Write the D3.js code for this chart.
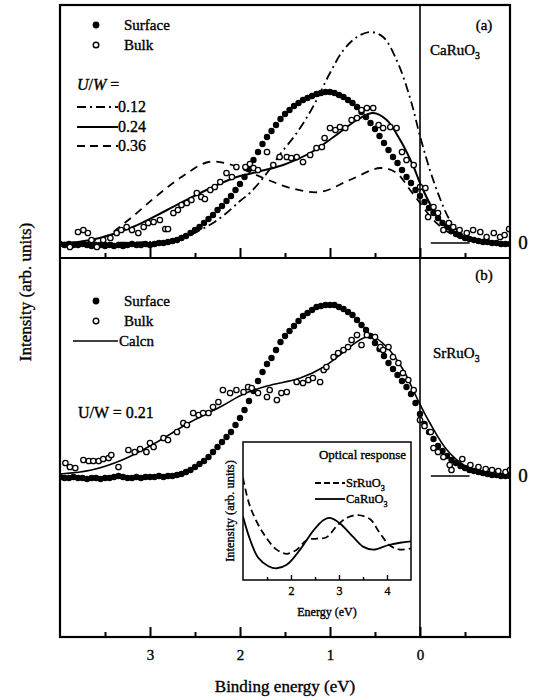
<!DOCTYPE html>
<html><head><meta charset="utf-8">
<script src="https://cdn.jsdelivr.net/npm/d3@7"></script>
<style>body{margin:0;background:#fff}svg{display:block}svg text{stroke:#000;stroke-width:0.35px}</style>
</head><body>
<svg id="chart" width="537" height="700"></svg>
<script>
// ---------------- DATA ----------------
const majorTicks = [3, 2, 1, 0];
const minorTicks = [3.5, 2.5, 1.5, 0.5, -0.5];
const insetMajorTicks = [2, 3, 4];
const insetMinorTicks = [1.5, 2.5, 3.5];

const surfaceEnergy = [4.00,3.95,3.90,3.85,3.80,3.75,3.70,3.65,3.60,3.55,
 3.50,3.45,3.40,3.35,3.30,3.25,3.20,3.15,3.10,3.05,
 3.00,2.95,2.90,2.85,2.80,2.75,2.70,2.65,2.60,2.55,
 2.50,2.45,2.40,2.35,2.30,2.25,2.20,2.15,2.10,2.05,
 2.00,1.95,1.90,1.85,1.80,1.75,1.70,1.65,1.60,1.55,
 1.50,1.45,1.40,1.35,1.30,1.25,1.20,1.15,1.10,1.05,
 1.00,0.95,0.90,0.85,0.80,0.75,0.70,0.65,0.60,0.55,
 0.50,0.45,0.40,0.35,0.30,0.25,0.20,0.15,0.10,0.05,
 0.00,-0.05,-0.10,-0.15,-0.20,-0.25,-0.30,-0.35,-0.40,-0.45,
 -0.50,-0.55,-0.60,-0.65,-0.70,-0.75,-0.80,-0.85,-0.90,-0.95,-1.00];

// Panel (a) CaRuO3 surface (filled)
const surfaceA = [-0.01,-0.02,-0.01,-0.02,-0.02,-0.01,-0.02,-0.03,-0.02,-0.02,
 -0.03,-0.02,-0.03,-0.02,-0.03,-0.02,-0.01,-0.02,-0.02,-0.01,
 -0.02,-0.01,0.00,0.00,0.01,0.02,0.03,0.05,0.07,0.10,
 0.13,0.16,0.20,0.24,0.28,0.33,0.37,0.42,0.47,0.53,
 0.59,0.66,0.74,0.83,0.91,0.99,1.06,1.12,1.18,1.24,
 1.29,1.33,1.37,1.40,1.43,1.45,1.47,1.49,1.50,1.51,
 1.51,1.50,1.48,1.46,1.43,1.40,1.36,1.31,1.26,1.20,
 1.14,1.07,1.00,0.93,0.86,0.80,0.73,0.66,0.60,0.53,
 0.47,0.41,0.35,0.30,0.25,0.20,0.16,0.12,0.09,0.07,
 0.05,0.04,0.03,0.02,0.01,0.01,0.00,0.00,-0.01,-0.01,-0.01];

// Panel (b) SrRuO3 surface (filled)
const surfaceB = [-0.01,-0.02,-0.02,-0.01,-0.02,-0.02,-0.03,-0.02,-0.02,-0.03,
 -0.02,-0.02,-0.01,0.00,-0.01,-0.02,-0.02,-0.01,-0.02,-0.01,
 -0.01,-0.01,0.00,-0.01,0.00,0.00,0.01,0.02,0.04,0.06,
 0.09,0.12,0.15,0.19,0.24,0.29,0.34,0.39,0.44,0.51,
 0.58,0.66,0.75,0.85,0.95,1.04,1.12,1.18,1.26,1.34,
 1.40,1.45,1.50,1.55,1.60,1.63,1.66,1.69,1.70,1.71,
 1.71,1.71,1.69,1.67,1.64,1.61,1.56,1.51,1.46,1.40,
 1.33,1.27,1.20,1.13,1.07,1.01,0.95,0.89,0.82,0.73,
 0.62,0.52,0.44,0.37,0.30,0.25,0.20,0.16,0.13,0.10,
 0.08,0.06,0.05,0.04,0.03,0.02,0.01,0.01,0.00,0.00,0.00];

// Panel (a) bulk (open)
const bulkAEnergy = [3.89,3.80,3.74,3.69,3.65,3.59,3.52,3.44,3.37,3.32,3.26,3.20,3.13,3.07,3.02,2.96,2.89,2.83,2.80,2.74,
 2.69,2.65,2.59,2.54,2.48,2.43,2.39,2.33,2.28,2.22,2.15,2.09,2.04,1.94,1.89,1.85,1.80,1.70,1.63,1.56,
 1.48,1.43,1.37,1.30,1.22,1.15,1.09,1.06,1.00,0.94,0.89,0.83,0.76,0.70,0.65,0.59,0.52,0.46,0.41,0.33,
 0.26,0.20,0.15,0.07,0.00,-0.06,-0.09,-0.15,-0.20,-0.26,-0.32,-0.37,-0.44,-0.52,-0.59,-0.67,-0.74,-0.82,-0.89,-0.94,-0.99];
const bulkAValue = [-0.04,0.11,0.13,0.10,0.03,-0.04,0.03,0.05,0.10,0.13,0.16,0.13,0.10,0.16,0.20,0.21,0.23,0.14,0.14,0.30,
 0.33,0.38,0.40,0.43,0.50,0.46,0.44,0.53,0.56,0.61,0.70,0.66,0.76,0.76,0.79,0.75,0.73,0.91,0.78,0.86,
 0.86,0.85,0.86,0.81,0.88,0.95,0.96,1.05,1.15,1.13,1.16,1.15,1.23,1.25,1.33,1.35,1.35,1.18,1.15,1.16,
 1.15,0.91,0.83,0.78,0.56,0.55,0.26,0.36,0.30,0.13,0.20,0.16,0.13,0.10,0.13,0.11,0.06,0.10,0.06,0.08,0.14];

// Panel (b) bulk (open)
const bulkBEnergy = [3.94,3.89,3.83,3.74,3.68,3.63,3.57,3.52,3.46,3.43,3.35,3.24,3.17,3.11,3.04,3.00,2.96,2.85,2.80,2.70,
 2.63,2.59,2.52,2.46,2.41,2.35,2.30,2.24,2.19,2.11,2.04,1.96,1.91,1.87,1.80,1.70,1.67,1.59,1.54,1.48,
 1.37,1.30,1.24,1.19,1.11,1.07,1.04,0.96,0.91,0.85,0.80,0.76,0.70,0.65,0.59,0.50,0.44,0.41,0.35,0.30,
 0.24,0.19,0.13,0.07,0.00,-0.05,-0.12,-0.15,-0.20,-0.26,-0.33,-0.35,-0.47,-0.56,-0.65,-0.73,-0.80,-0.87,-0.95,-1.00];
const bulkBValue = [0.13,0.09,0.08,0.16,0.15,0.15,0.15,0.17,0.18,0.21,0.09,0.26,0.24,0.27,0.24,0.33,0.29,0.38,0.36,0.44,
 0.53,0.51,0.63,0.61,0.63,0.63,0.69,0.74,0.86,0.83,0.86,0.84,0.89,0.88,0.83,0.79,0.86,0.76,0.83,0.84,
 0.94,0.93,0.96,0.98,0.94,1.06,1.09,1.19,1.23,1.26,1.29,1.36,1.41,1.31,1.41,1.39,1.29,1.26,1.29,1.19,
 1.13,1.03,0.96,0.86,0.56,0.50,0.44,0.28,0.24,0.19,0.11,0.06,0.17,0.11,0.09,0.07,0.06,0.05,0.04,0.06];

// Panel (a) calculations, U/W = 0.12, 0.24, 0.36
const calc012Energy = [4.0,3.5,3.0,2.8,2.6,2.44,2.3,2.15,2.0,1.89,1.70,1.56,1.37,1.19,1.0,0.85,0.70,0.556,0.41,0.26,0.11,0.0,-0.11,-0.22,-0.33,-0.45,-0.6,-0.8,-1.0];
const calc012Value  = [0.0,0.0,0.01,0.02,0.06,0.13,0.20,0.30,0.42,0.50,0.70,0.88,1.10,1.36,1.70,1.93,2.06,2.11,2.06,1.83,1.45,1.07,0.73,0.45,0.23,0.09,0.02,0.0,-0.01];
const calc024Energy = [4.0,3.8,3.56,3.19,2.81,2.44,2.07,1.81,1.52,1.22,0.96,0.70,0.52,0.37,0.22,0.07,0.0,-0.15,-0.33,-0.52,-0.70,-1.0];
const calc024Value  = [0.0,0.01,0.05,0.16,0.33,0.50,0.65,0.71,0.78,0.90,1.06,1.23,1.30,1.23,1.03,0.76,0.60,0.33,0.13,0.05,0.01,0.0];
const calc036Energy = [4.0,3.7,3.5,3.24,2.94,2.65,2.35,2.09,1.74,1.44,1.11,0.78,0.44,0.26,0.11,0.0,-0.15,-0.33,-0.55,-0.8,-1.0];
const calc036Value  = [0.0,0.01,0.06,0.23,0.46,0.66,0.81,0.78,0.65,0.55,0.51,0.63,0.75,0.70,0.53,0.40,0.23,0.10,0.03,0.0,0.0];

// Panel (b) calculation, U/W = 0.21
const calcBEnergy = [4.0,3.65,3.31,2.94,2.57,2.2,1.96,1.70,1.33,1.07,0.85,0.67,0.54,0.37,0.185,0.04,-0.11,-0.30,-0.52,-0.78,-1.0];
const calcBValue  = [0.02,0.06,0.16,0.33,0.53,0.70,0.82,0.90,0.98,1.09,1.24,1.36,1.40,1.29,1.06,0.79,0.53,0.26,0.09,0.01,0.0];

// Inset: optical response
const opticalSrEnergy = [1.0,1.15,1.42,1.70,1.91,2.12,2.33,2.54,2.74,2.95,3.16,3.40,3.65,3.85,4.06,4.27,4.5];
const opticalSrValue  = [0.74,0.53,0.34,0.22,0.19,0.22,0.29,0.30,0.31,0.39,0.45,0.47,0.44,0.34,0.25,0.22,0.23];
const opticalCaEnergy = [1.0,1.15,1.32,1.53,1.70,1.91,2.19,2.47,2.68,2.81,3.02,3.30,3.51,3.72,4.0,4.27,4.5];
const opticalCaValue  = [0.46,0.29,0.16,0.10,0.085,0.11,0.22,0.36,0.435,0.45,0.41,0.31,0.24,0.22,0.25,0.27,0.28];

// ---------------- DRAW ----------------
const FONT = "'Liberation Serif','Times New Roman',Times,serif";
const svg = d3.select('#chart');
const L = 60, R = 510, T = 5, MID = 258, B = 637;

const x = d3.scaleLinear().domain([4, -1]).range([L, R]);
const yA = d3.scaleLinear().domain([0, 2]).range([243, 43]);
const yB = d3.scaleLinear().domain([0, 2]).range([476, 276]);

const defs = svg.append('defs');
defs.append('clipPath').attr('id', 'clipA').append('rect').attr('x', L).attr('y', T).attr('width', R - L).attr('height', MID - T);
defs.append('clipPath').attr('id', 'clipB').append('rect').attr('x', L).attr('y', MID).attr('width', R - L).attr('height', B - MID);

const zip = (es, vs) => es.map((e, i) => [e, vs[i]]);

function drawLine(g, y, es, vs, dash, w) {
  const line = d3.line().x(d => x(d[0])).y(d => y(d[1])).curve(d3.curveCatmullRom.alpha(0.5));
  g.append('path').datum(zip(es, vs)).attr('d', line)
    .attr('fill', 'none').attr('stroke', '#000').attr('stroke-width', w)
    .attr('stroke-dasharray', dash || null);
}
function drawFilled(g, y, es, vs) {
  g.append('g').selectAll('circle').data(zip(es, vs)).join('circle')
    .attr('cx', d => x(d[0])).attr('cy', d => y(d[1])).attr('r', 3.2).attr('fill', '#000');
}
function drawOpen(g, y, es, vs) {
  g.append('g').selectAll('circle').data(zip(es, vs)).join('circle')
    .attr('cx', d => x(d[0])).attr('cy', d => y(d[1])).attr('r', 2.7)
    .attr('fill', '#fff').attr('stroke', '#000').attr('stroke-width', 1.3);
}

// panel a
const gA = svg.append('g').attr('clip-path', 'url(#clipA)');
drawFilled(gA, yA, surfaceEnergy, surfaceA);
drawLine(gA, yA, calc012Energy, calc012Value, '9,4,2,4', 1.8);
drawLine(gA, yA, calc036Energy, calc036Value, '8,6', 1.8);
drawLine(gA, yA, calc024Energy, calc024Value, null, 2);
drawOpen(gA, yA, bulkAEnergy, bulkAValue);
gA.append('line').attr('x1', x(-0.12)).attr('x2', x(-0.55)).attr('y1', yA(0)).attr('y2', yA(0)).attr('stroke', '#000').attr('stroke-width', 1.5);

// panel b
const gB = svg.append('g').attr('clip-path', 'url(#clipB)');
drawFilled(gB, yB, surfaceEnergy, surfaceB);
drawLine(gB, yB, calcBEnergy, calcBValue, null, 1.6);
drawOpen(gB, yB, bulkBEnergy, bulkBValue);
gB.append('line').attr('x1', x(-0.12)).attr('x2', x(-0.55)).attr('y1', yB(0)).attr('y2', yB(0)).attr('stroke', '#000').attr('stroke-width', 1.5);

// frame
svg.append('rect').attr('x', L).attr('y', T).attr('width', R - L).attr('height', B - T)
  .attr('fill', 'none').attr('stroke', '#000').attr('stroke-width', 2.2);
svg.append('line').attr('x1', L).attr('x2', R).attr('y1', MID).attr('y2', MID).attr('stroke', '#000').attr('stroke-width', 2.2);
svg.append('line').attr('x1', x(0)).attr('x2', x(0)).attr('y1', T).attr('y2', B).attr('stroke', '#000').attr('stroke-width', 1.6);

// axes ticks (inward)
function ticks(yPos, labels) {
  const major = svg.append('g').attr('transform', `translate(0,${yPos})`)
    .call(d3.axisBottom(x).tickValues(majorTicks).tickSize(-10).tickPadding(12)
      .tickFormat(labels ? d3.format('d') : () => ''));
  const minor = svg.append('g').attr('transform', `translate(0,${yPos})`)
    .call(d3.axisBottom(x).tickValues(minorTicks).tickSize(-5).tickFormat(() => ''));
  [major, minor].forEach(g => {
    g.select('.domain').remove();
    g.selectAll('.tick line').attr('stroke-width', 2);
    g.selectAll('text').attr('font-family', FONT).attr('font-size', 15).attr('fill', '#000');
  });
}
ticks(MID, false);
ticks(B, true);

const txt = (xx, yy, s, size, anchor) => svg.append('text').attr('x', xx).attr('y', yy)
  .attr('font-family', FONT).attr('font-size', size).attr('text-anchor', anchor || 'start').attr('fill', '#000').text(s);

txt((L + R) / 2, 692, 'Binding energy (eV)', 17, 'middle');
svg.append('text').attr('transform', 'translate(31,292) rotate(-90)').attr('text-anchor', 'middle')
  .attr('font-family', FONT).attr('font-size', 17).text('Intensity (arb. units)');

// zero labels
txt(523, yA(0) + 6, '0', 19, 'middle');
txt(523, yB(0) + 6, '0', 19, 'middle');

// panel labels
txt(484, 30, '(a)', 15, 'middle');
txt(484, 280, '(b)', 15, 'middle');
function formula(xx, yy, base, size) {
  const t = svg.append('text').attr('x', xx).attr('y', yy).attr('font-family', FONT).attr('font-size', size);
  t.append('tspan').text(base);
  t.append('tspan').attr('dy', 4).attr('font-size', size * 0.65).text('3');
  return t;
}
formula(430, 55, 'CaRuO', 15);
formula(433, 358, 'SrRuO', 15);

// legend panel a
svg.append('circle').attr('cx', 96).attr('cy', 25).attr('r', 3.4).attr('fill', '#000');
svg.append('circle').attr('cx', 96).attr('cy', 45).attr('r', 2.8).attr('fill', '#fff').attr('stroke', '#000').attr('stroke-width', 1.4);
txt(124, 30, 'Surface', 15);
txt(124, 50, 'Bulk', 15);
const uw = svg.append('text').attr('x', 77).attr('y', 90).attr('font-family', FONT).attr('font-size', 16);
uw.append('tspan').attr('font-style', 'italic').text('U');
uw.append('tspan').text('/');
uw.append('tspan').attr('font-style', 'italic').text('W');
uw.append('tspan').text(' =');
const legA = [['9,4,2,4', '0.12', 107], [null, '0.24', 127], ['8,5', '0.36', 146]];
legA.forEach(([dash, lab, yy]) => {
  svg.append('line').attr('x1', 77).attr('x2', 118).attr('y1', yy).attr('y2', yy)
    .attr('stroke', '#000').attr('stroke-width', 2).attr('stroke-dasharray', dash);
  txt(118, yy + 5, lab, 16);
});

// legend panel b
svg.append('circle').attr('cx', 96).attr('cy', 301).attr('r', 3.4).attr('fill', '#000');
svg.append('circle').attr('cx', 96).attr('cy', 321).attr('r', 2.8).attr('fill', '#fff').attr('stroke', '#000').attr('stroke-width', 1.4);
txt(124, 306, 'Surface', 15);
txt(124, 326, 'Bulk', 15);
svg.append('line').attr('x1', 73).attr('x2', 118).attr('y1', 341).attr('y2', 341).attr('stroke', '#000').attr('stroke-width', 1.6);
txt(119, 346, 'Calcn', 15);
txt(78, 418, 'U/W = 0.21', 16);

// ---------------- INSET ----------------
const IL = 243, IR = 411, IT = 442, IB = 580;
const xi = d3.scaleLinear().domain([1, 4.5]).range([IL, IR]);
const yi = d3.scaleLinear().domain([0, 1]).range([IB, IT]);
defs.append('clipPath').attr('id', 'clipI').append('rect').attr('x', IL).attr('y', IT).attr('width', IR - IL).attr('height', IB - IT);
svg.append('rect').attr('x', IL).attr('y', IT).attr('width', IR - IL).attr('height', IB - IT).attr('fill', '#fff');
const gI = svg.append('g').attr('clip-path', 'url(#clipI)');
const iline = d3.line().x(d => xi(d[0])).y(d => yi(d[1])).curve(d3.curveCatmullRom.alpha(0.5));
gI.append('path').datum(zip(opticalSrEnergy, opticalSrValue)).attr('d', iline)
  .attr('fill', 'none').attr('stroke', '#000').attr('stroke-width', 1.8).attr('stroke-dasharray', '7,4');
gI.append('path').datum(zip(opticalCaEnergy, opticalCaValue)).attr('d', iline)
  .attr('fill', 'none').attr('stroke', '#000').attr('stroke-width', 1.8);
svg.append('rect').attr('x', IL).attr('y', IT).attr('width', IR - IL).attr('height', IB - IT)
  .attr('fill', 'none').attr('stroke', '#000').attr('stroke-width', 1.5);
const iMaj = svg.append('g').attr('transform', `translate(0,${IB})`)
  .call(d3.axisBottom(xi).tickValues(insetMajorTicks).tickSize(-5).tickPadding(6).tickFormat(d3.format('d')));
const iMin = svg.append('g').attr('transform', `translate(0,${IB})`)
  .call(d3.axisBottom(xi).tickValues(insetMinorTicks).tickSize(-3).tickFormat(() => ''));
[iMaj, iMin].forEach(g => {
  g.select('.domain').remove();
  g.selectAll('.tick line').attr('stroke-width', 1.4);
  g.selectAll('text').attr('font-family', FONT).attr('font-size', 12).attr('fill', '#000');
});
txt((IL + IR) / 2, 616, 'Energy (eV)', 12, 'middle');
svg.append('text').attr('transform', `translate(234,${(IT + IB) / 2}) rotate(-90)`).attr('text-anchor', 'middle')
  .attr('font-family', FONT).attr('font-size', 12.5).text('Intensity (arb. units)');
txt(406, 459, 'Optical response', 13, 'end');
svg.append('line').attr('x1', 315).attr('x2', 345).attr('y1', 483).attr('y2', 483).attr('stroke', '#000').attr('stroke-width', 1.8).attr('stroke-dasharray', '6,3');
svg.append('line').attr('x1', 315).attr('x2', 345).attr('y1', 499).attr('y2', 499).attr('stroke', '#000').attr('stroke-width', 1.8);
formula(346, 487, 'SrRuO', 12.5);
formula(346, 503, 'CaRuO', 12.5);
</script>
</body></html>
